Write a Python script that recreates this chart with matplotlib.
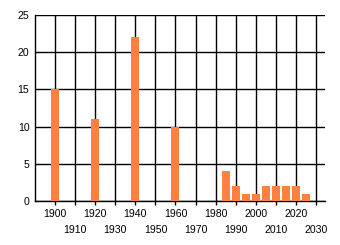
import matplotlib
matplotlib.use("Agg")
import matplotlib.pyplot as plt

years = [1900, 1920, 1940, 1960, 1985, 1990, 1995, 2000, 2005, 2010, 2015, 2020, 2025]
counts = [15, 11, 22, 10, 4, 2, 1, 1, 2, 2, 2, 2, 1]
even_ticks = [1900, 1920, 1940, 1960, 1980, 2000, 2020]
odd_ticks = [1910, 1930, 1950, 1970, 1990, 2010, 2030]

plt.rcParams['font.family'] = ['Liberation Sans', 'DejaVu Sans']

fig = plt.figure(figsize=(3.4, 2.45), dpi=100)
ax = fig.add_axes([35/340, 1 - 201/245, 290/340, 186/245])

ax.bar(years, counts, width=4, color='#FF8040', zorder=3)

ax.set_xlim(1890, 2034.5)
ax.set_ylim(0, 25)
ax.set_yticks(range(0, 26, 5))
ax.set_xticks(even_ticks)
ax.set_xticks(odd_ticks, minor=True)
ax.set_xticklabels([str(t) for t in even_ticks])
ax.set_xticklabels([str(t) for t in odd_ticks], minor=True)

ax.grid(True, which='both', color='black', linewidth=1, zorder=1)
ax.tick_params(axis='x', which='major', length=3, width=1, pad=3, labelsize=7.6, color='black')
ax.tick_params(axis='x', which='minor', length=3, width=1, pad=14.5, labelsize=7.6, color='black')
ax.tick_params(axis='y', length=0, pad=4, labelsize=7.6)

for s in ['top', 'right']:
    ax.spines[s].set_visible(False)
ax.spines['left'].set_linewidth(1)
ax.spines['bottom'].set_linewidth(1)

fig.savefig('out.png', dpi=100)
